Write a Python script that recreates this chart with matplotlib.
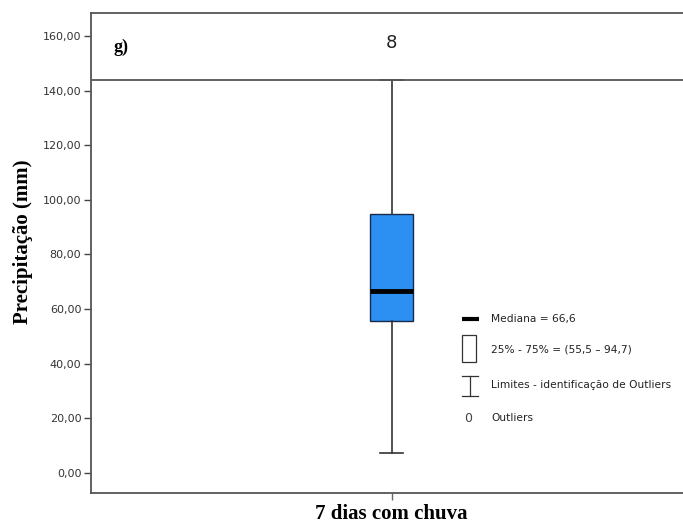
import matplotlib.pyplot as plt
from matplotlib.patches import Rectangle
from matplotlib.lines import Line2D

# Box statistics (mm)
group_label = '7 dias com chuva'
q1 = 55.5
median = 66.6
q3 = 94.7
whisker_low = 7.5
whisker_high = 144.0
n_cases = '8'
y_ticks = [0, 20, 40, 60, 80, 100, 120, 140, 160]

fig = plt.figure(figsize=(6.83, 5.28), dpi=100)
ax = fig.add_axes([91 / 683, 1 - 493 / 528, 592 / 683, 480 / 528])

stats = [{'label': group_label, 'q1': q1, 'med': median, 'q3': q3,
          'whislo': whisker_low, 'whishi': whisker_high, 'fliers': []}]
ax.bxp(stats, positions=[0.508], widths=0.073, patch_artist=True,
       boxprops=dict(facecolor='#2b90f2', edgecolor='#1a2a4a', linewidth=1.0),
       medianprops=dict(color='black', linewidth=3.5, solid_capstyle='butt'),
       whiskerprops=dict(color='#333333', linewidth=1.2),
       capprops=dict(color='#333333', linewidth=1.2),
       capwidths=0.038)

ax.set_xlim(0, 1)
ax.set_ylim(-7.32, 168.4)

# header band line
ax.axhline(143.9, color='#555555', linewidth=1.3)

for side in ['left', 'bottom', 'top']:
    ax.spines[side].set_color('#555555')
    ax.spines[side].set_linewidth(1.3)
ax.spines['right'].set_visible(False)

ax.set_yticks(y_ticks)
ax.set_yticklabels(['%d,00' % v for v in y_ticks], fontsize=8, color='#333333')
ax.tick_params(axis='y', direction='out', length=5, width=1, color='#444444', pad=2)
ax.set_xticks([0.508])
ax.set_xticklabels([group_label], fontsize=15, fontweight='bold', family='Liberation Serif')
ax.tick_params(axis='x', direction='out', length=5, width=1, color='#666666', pad=3)

ax.set_ylabel('Precipitação (mm)', fontsize=15, fontweight='bold', family='Liberation Serif')
ax.yaxis.set_label_coords((33 - 91) / 592, (493 - 242) / 480)

ax.text(0.051, 156, 'g)', fontsize=13, fontweight='bold', family='Liberation Serif',
        ha='center', va='center')
ax.text(0.508, 157.5, n_cases, fontsize=13, ha='center', va='center', color='#222222')

# hand-made legend
leg_x = (462 - 91) / 592
txt_x = (491 - 91) / 592
def px2y(py):
    return (473 - py) / 2.731

ax.add_line(Line2D([leg_x, leg_x + 17 / 592], [px2y(319)] * 2, color='black', linewidth=3,
                   solid_capstyle='butt'))
ax.text(txt_x, px2y(319), 'Mediana = 66,6', fontsize=7.7, va='center', color='#222222')

ax.add_patch(Rectangle((leg_x, px2y(362)), 14 / 592, 27 / 2.731, facecolor='white',
                       edgecolor='#333333', linewidth=0.9))
ax.text(txt_x, px2y(350), '25% - 75% = (55,5 – 94,7)', fontsize=7.7, va='center', color='#222222')

wx = leg_x + 8 / 592
ax.add_line(Line2D([wx, wx], [px2y(376), px2y(396)], color='#333333', linewidth=0.9))
ax.add_line(Line2D([wx - 8 / 592, wx + 8 / 592], [px2y(376)] * 2, color='#333333', linewidth=0.9))
ax.add_line(Line2D([wx - 8 / 592, wx + 8 / 592], [px2y(396)] * 2, color='#333333', linewidth=0.9))
ax.text(txt_x, px2y(385), 'Limites - identificação de Outliers', fontsize=7.7, va='center',
        color='#222222')

ax.text(wx - 2 / 592, px2y(419), '0', fontsize=9, va='center', ha='center', color='#444444')
ax.text(txt_x, px2y(418), 'Outliers', fontsize=7.7, va='center', color='#222222')

fig.savefig('out.png', dpi=100, facecolor='white')
